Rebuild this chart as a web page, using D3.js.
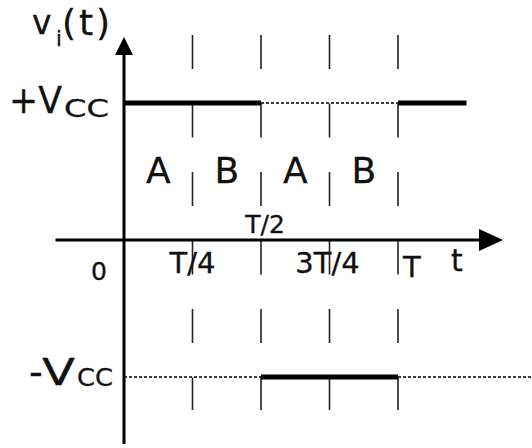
<!DOCTYPE html>
<html>
<head>
<meta charset="utf-8">
<script src="https://cdn.jsdelivr.net/npm/d3@7"></script>
<style>
  body { margin: 0; background: #fff; }
  text { font-family: "DejaVu Sans", Verdana, sans-serif; fill: #111; stroke: #111; stroke-width: 0.3px; }
</style>
</head>
<body>
<div id="chart"></div>
<script>
// square wave pieces (t in units of T, v in units of Vcc)
const wave = [
    { t0: 0, t1: 0.5, v: 1 },
    { t0: 0.5, t1: 1, v: -1 },
    { t0: 1, t1: 1.25, v: 1 }
];
// dotted reference levels
const refLines = [
    { t0: 0.5, t1: 1, v: 1 },
    { t0: 0, t1: 0.5, v: -1 },
    { t0: 1, t1: 1.5, v: -1 }
];
const tickValues = [0.25, 0.5, 0.75, 1];
const tickLabels = ["T/4", "T/2", "3T/4", "T"];
const regionLabels = ["A", "B", "A", "B"];

const width = 532, height = 448;

const svg = d3.select("#chart")
    .append("svg")
    .attr("width", width)
    .attr("height", height);

// scales
const x = d3.scaleLinear().domain([0, 1]).range([124, 398]);
const y = d3.scaleLinear().domain([-1, 1]).range([377, 103]);

// dashed vertical guides at each tick
svg.append("g")
    .selectAll("line")
    .data(tickValues)
    .join("line")
    .attr("x1", d => x(d)).attr("x2", d => x(d))
    .attr("y1", 35).attr("y2", 410)
    .attr("stroke", "#222")
    .attr("stroke-width", 1.6)
    .attr("stroke-dasharray", "34,34.5");

// dotted reference lines
svg.append("g")
    .selectAll("line")
    .data(refLines)
    .join("line")
    .attr("x1", d => x(d.t0)).attr("x2", d => x(d.t1))
    .attr("y1", d => y(d.v)).attr("y2", d => y(d.v))
    .attr("stroke", "#000")
    .attr("stroke-width", 1.5)
    .attr("stroke-dasharray", "3,2");

// axes
svg.append("line")
    .attr("x1", x(-0.25)).attr("x2", x(1.3))
    .attr("y1", y(0)).attr("y2", y(0))
    .attr("stroke", "#000").attr("stroke-width", 3);
svg.append("line")
    .attr("x1", x(0)).attr("x2", x(0))
    .attr("y1", 52).attr("y2", 444)
    .attr("stroke", "#000").attr("stroke-width", 3);

// arrow heads
svg.append("path")
    .attr("d", `M${x(0)},37 L${x(0) - 9},55 L${x(0) + 9},55 Z`)
    .attr("fill", "#000");
svg.append("path")
    .attr("d", `M503,${y(0)} L479,${y(0) - 11} L479,${y(0) + 11} Z`)
    .attr("fill", "#000");

// square wave
svg.append("g")
    .selectAll("line")
    .data(wave)
    .join("line")
    .attr("x1", d => x(d.t0)).attr("x2", d => x(d.t1))
    .attr("y1", d => y(d.v)).attr("y2", d => y(d.v))
    .attr("stroke", "#000")
    .attr("stroke-width", 5);

// tick labels
const labelPos = [
    { dx: 0, y: 273, anchor: "middle", size: 29 },
    { dx: 4, y: 233, anchor: "middle", size: 25 },
    { dx: -2, y: 273, anchor: "middle", size: 29 },
    { dx: 5, y: 277, anchor: "start", size: 29 }
];
svg.append("g")
    .selectAll("text")
    .data(tickValues)
    .join("text")
    .attr("x", (d, i) => x(d) + labelPos[i].dx)
    .attr("y", (d, i) => labelPos[i].y)
    .attr("text-anchor", (d, i) => labelPos[i].anchor)
    .style("font-size", (d, i) => labelPos[i].size + "px")
    .text((d, i) => tickLabels[i]);

svg.append("text")
    .attr("x", 99).attr("y", 280)
    .attr("text-anchor", "middle")
    .style("font-size", "25px")
    .text("0");

svg.append("text")
    .attr("x", 457).attr("y", 271)
    .attr("text-anchor", "middle")
    .style("font-size", "30px")
    .text("t");

// A / B region labels
svg.append("g")
    .selectAll("text")
    .data(regionLabels)
    .join("text")
    .attr("x", (d, i) => x(i * 0.25 + 0.125))
    .attr("y", 183)
    .attr("text-anchor", "middle")
    .style("font-size", "36px")
    .text(d => d);

// y axis title
svg.append("text").attr("x", 32).attr("y", 34).style("font-size", "33px").text("v");
svg.append("text").attr("x", 56).attr("y", 46).style("font-size", "21px").text("i");
svg.append("text").attr("x", 62).attr("y", 35).style("font-size", "36px")
    .attr("textLength", 48).attr("lengthAdjust", "spacing").text("(t)");

// level labels
svg.append("text").attr("x", 9).attr("y", 113).style("font-size", "38px")
    .attr("textLength", 53).attr("lengthAdjust", "spacingAndGlyphs").text("+V");
svg.append("text").attr("x", 64).attr("y", 117).style("font-size", "24px")
    .attr("textLength", 45).attr("lengthAdjust", "spacingAndGlyphs").text("CC");

svg.append("text").attr("x", 29).attr("y", 385).style("font-size", "38px").text("-");
svg.append("text").attr("x", 42).attr("y", 385).style("font-size", "38px")
    .attr("textLength", 33).attr("lengthAdjust", "spacingAndGlyphs").text("V");
svg.append("text").attr("x", 77).attr("y", 386).style("font-size", "24px")
    .attr("textLength", 36).attr("lengthAdjust", "spacingAndGlyphs").text("CC");
</script>
</body>
</html>
